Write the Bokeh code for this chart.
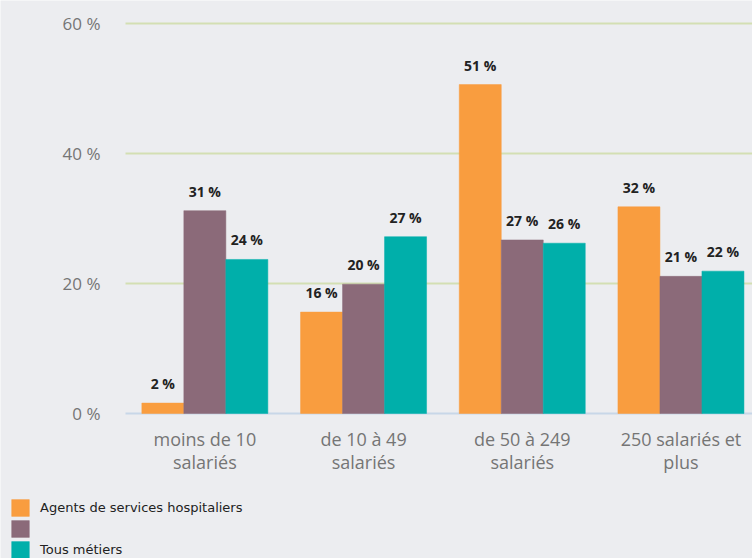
from bokeh.plotting import figure
from bokeh.models import ColumnDataSource, Range1d, Legend, LegendItem, LabelSet
from bokeh.core.properties import value
from bokeh.transform import dodge
from bokeh.embed import file_html
from bokeh.resources import INLINE

categories = ["moins de 10 salariés", "de 10 à 49 salariés", "de 50 à 249 salariés", "250 salariés et plus"]
label_line1 = ["moins de 10", "de 10 à 49", "de 50 à 249", "250 salariés et"]
label_line2 = ["salariés", "salariés", "salariés", "plus"]
series_names = ["Agents de services hospitaliers", "", "Tous métiers"]
agents = [1.6, 15.6, 50.6, 31.8]
autre = [31.2, 19.9, 26.7, 21.1]
tous = [23.7, 27.2, 26.2, 21.9]
y_ticks = [0, 20, 40, 60]

colors = ["#f99d3f", "#8b6a79", "#00afaa"]
bg = "#ecedf0"
tick_color = "#757575"

W, H = 752, 558
left_px, zero_px = 125, 413
cat_px = 158.7          # pixels per category
y_px = 6.5              # pixels per percent
x_start = -0.5 - left_px / cat_px
x_end = -0.5 + (W - left_px) / cat_px
y_end = zero_px / y_px
y_start = -(H - zero_px) / y_px

p = figure(width=W, height=H, output_backend="svg", toolbar_location=None,
           x_range=Range1d(x_start, x_end), y_range=Range1d(y_start, y_end),
           x_axis_location=None, y_axis_location=None,
           min_border=0, min_border_left=0, min_border_right=0, min_border_top=0, min_border_bottom=0,
           background_fill_color=bg, border_fill_color=bg, outline_line_color=None)
p.grid.visible = False

idx = list(range(len(categories)))

# gridlines and baseline
grid_y = y_ticks[1:]
p.segment(x0=[-0.5] * len(grid_y), x1=[x_end + 1] * len(grid_y), y0=grid_y, y1=grid_y,
          line_color="#d3dfb3", line_width=2)
p.segment(x0=[-0.5], x1=[x_end + 1], y0=y_ticks[:1], y1=y_ticks[:1],
          line_color="#c8d7e8", line_width=2)

bw = 42 / cat_px
offsets = [-bw, 0, bw]
renderers = []
for vals, off, col in zip([agents, autre, tous], offsets, colors):
    src = ColumnDataSource(dict(xi=idx, v=vals, lab=[f"{round(v)} %" for v in vals]))
    r = p.vbar(x=dodge("xi", off), top="v", width=bw, source=src,
               fill_color=col, line_color=col, line_width=0.5)
    renderers.append(r)
    lbl = LabelSet(x=dodge("xi", off), y="v", text="lab", source=src,
                   text_align="center", text_baseline="bottom", y_offset=10,
                   text_font=value("Open Sans"), text_font_style="bold",
                   text_font_size="14px", text_color="#222222")
    p.add_layout(lbl)

# y tick labels
p.text(x=[-0.5] * len(y_ticks), y=y_ticks, text=[f"{t} %" for t in y_ticks],
       x_offset=-25, text_align="right", text_baseline="middle",
       text_font=value("Open Sans"), text_font_size="17px", text_color=tick_color)

# x category labels (two lines)
p.text(x=idx, y=[0] * len(idx), text=label_line1, y_offset=25,
       text_align="center", text_baseline="middle",
       text_font=value("Open Sans"), text_font_size="18px", text_color=tick_color)
p.text(x=idx, y=[0] * len(idx), text=label_line2, y_offset=48,
       text_align="center", text_baseline="middle",
       text_font=value("Open Sans"), text_font_size="18px", text_color=tick_color)

items = [LegendItem(label=n, renderers=[r]) for n, r in zip(series_names, renderers)]
legend = Legend(items=items, location=(9, -2), orientation="vertical",
                glyph_width=22, glyph_height=21, label_height=21, label_standoff=9, spacing=0,
                padding=0, margin=0, background_fill_alpha=0, border_line_color=None,
                label_text_font="DejaVu Sans", label_text_font_size="13px",
                label_text_color="#222222")
p.add_layout(legend, "center")

open("out.html", "w").write(file_html(p, INLINE))
